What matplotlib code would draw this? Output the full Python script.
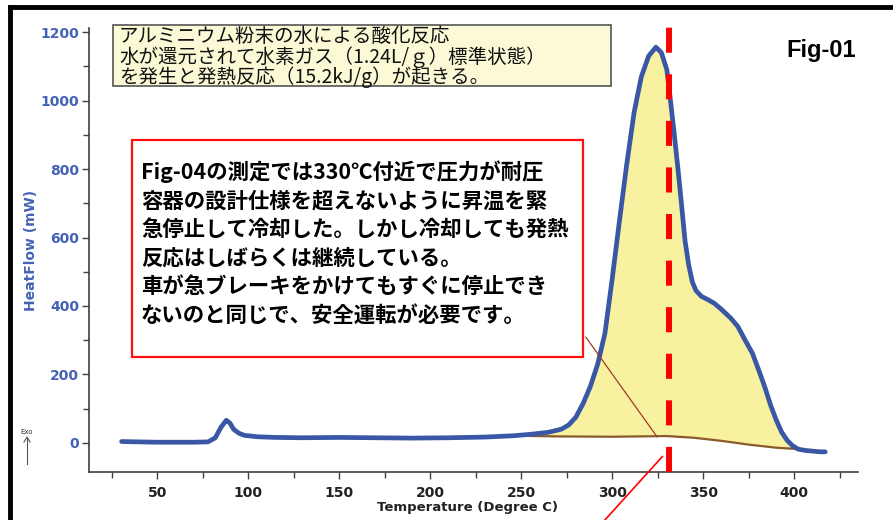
import numpy as np
import matplotlib.pyplot as plt
from matplotlib.lines import Line2D
from matplotlib.patches import Rectangle

plt.rcParams['font.family'] = ['Noto Sans CJK JP', 'DejaVu Sans']

# heat flow curve (temperature in degC, heat flow in mW)
temp = [30.5, 40, 50, 60, 70, 78, 82, 85, 88, 90, 92, 95, 98, 105, 115,
        130, 150, 170, 190, 210, 230, 246, 255, 265, 272, 276, 280, 284,
        288, 292, 296, 300, 304, 308, 312, 316, 320, 324, 327, 330, 332,
        334, 336, 338, 340, 342, 344, 346, 349, 352, 356, 360, 365, 369,
        373, 377, 381, 384, 387, 390, 393, 396, 399, 402, 406, 410, 414, 417]
heatflow = [4, 3, 2, 2, 2, 3, 15, 45, 66, 58, 40, 28, 22, 18, 16,
            15, 16, 15, 14, 15, 17, 21, 25, 31, 40, 52, 75, 115,
            165, 230, 320, 480, 650, 815, 965, 1070, 1130, 1156, 1140, 1090, 1000,
            905, 806, 700, 590, 520, 470, 445, 428, 420, 408, 390, 365, 340,
            300, 262, 205, 160, 110, 68, 32, 8, -8, -18, -22, -24, -26, -26]

# baseline under the exotherm
base_t = [246, 270, 300, 330, 345, 360, 375, 390, 402]
base_hf = [21, 19, 18, 20, 15, 6, -5, -14, -18]

stop_temp = 331

box_lines = ['アルミニウム粉末の水による酸化反応',
             '水が還元されて水素ガス（1.24L/ｇ）標準状態）',
             'を発生と発熱反応（15.2kJ/g）が起きる。']
note_lines = ['Fig-04の測定では330℃付近で圧力が耐圧',
              '容器の設計仕様を超えないように昇温を緊',
              '急停止して冷却した。しかし冷却しても発熱',
              '反応はしばらくは継続している。',
              '車が急ブレーキをかけてもすぐに停止でき',
              'ないのと同じで、安全運転が必要です。']

W, H = 893, 520
fig = plt.figure(figsize=(W / 100, H / 100), dpi=100)
ax = fig.add_axes([89 / W, 1 - 472 / H, (858 - 89) / W, (472 - 28) / H])

blue = '#3a57a5'
t = np.array(temp)
hf = np.array(heatflow)
sel = (t >= base_t[0]) & (t <= base_t[-1])
poly_x = np.concatenate([t[sel], base_t[::-1]])
poly_y = np.concatenate([hf[sel], base_hf[::-1]])
ax.fill(poly_x, poly_y, color='#f7f1a0', zorder=1)
ax.plot(base_t, base_hf, color='#8b5a2b', lw=1.6, zorder=2)
ax.plot(temp, heatflow, color=blue, lw=3.4, solid_capstyle='round', zorder=3)

ax.axvline(stop_temp, ymin=0, ymax=1.014, color='red', lw=4.3,
           linestyle=(0, (4.2, 3.6)), dash_capstyle='butt', clip_on=False, zorder=4)

# leader lines
ax.plot([285.5, 324.6], [309, 18], color='#a33a2a', lw=0.9, zorder=4)
ax.plot([327.5, 296], [-40, -225], color='red', lw=1.2, clip_on=False, zorder=4)

ax.set_xlim(12.6, 435)
ax.set_ylim(-85, 1212)
ax.set_xticks(range(50, 401, 50))
ax.set_xticks(range(25, 426, 50), minor=True)
ax.set_yticks(range(0, 1201, 200))
ax.set_yticks(range(100, 1200, 200), minor=True)
for s in ['top', 'right']:
    ax.spines[s].set_visible(False)
for s in ['left', 'bottom']:
    ax.spines[s].set_color('#404040')
    ax.spines[s].set_linewidth(1.2)
ax.tick_params(which='both', direction='out', color='#404040', width=1.0)
ax.tick_params(which='major', length=5)
ax.tick_params(which='minor', length=4)
ax.tick_params(axis='y', pad=2)
ax.tick_params(axis='x', pad=5)
for lab in ax.get_yticklabels():
    lab.set_family('DejaVu Sans')
    lab.set_fontweight('bold')
    lab.set_fontsize(10)
    lab.set_color('#4563b5')
for lab in ax.get_xticklabels():
    lab.set_family('DejaVu Sans')
    lab.set_fontweight('bold')
    lab.set_fontsize(10)
    lab.set_color('#222222')

fig.text(467 / W, 1 - 507 / H, 'Temperature (Degree C)', family='DejaVu Sans',
         fontweight='bold', fontsize=9.5, color='#222222', ha='center', va='center')
fig.text(31 / W, 1 - 250 / H, 'HeatFlow (mW)', family='DejaVu Sans',
         fontweight='bold', fontsize=10, color='#4563b5', rotation=90,
         ha='center', va='center')

# Exo marker
fig.text(27 / W, 1 - 432 / H, 'Exo', family='DejaVu Sans', fontsize=5,
         color='#333333', ha='center', va='center')
fig.add_artist(Line2D([27 / W, 27 / W], [1 - 464 / H, 1 - 438 / H],
                      color='#555555', lw=0.8))
fig.add_artist(Line2D([24 / W, 27 / W, 30 / W], [1 - 442 / H, 1 - 437 / H, 1 - 442 / H],
                      color='#555555', lw=0.8))

# outer frame (left and top edges)
fig.add_artist(Line2D([10 / W, 10 / W], [0, 1 - 7 / H], color='black', lw=3.5))
fig.add_artist(Line2D([10 / W, 1], [1 - 7 / H, 1 - 7 / H], color='black', lw=3.5))

# yellow info box
fig.add_artist(Rectangle((113 / W, 1 - 86 / H), (611 - 113) / W, (86 - 25) / H,
                         transform=fig.transFigure, facecolor='#fcf9d6',
                         edgecolor='#555555', lw=1.2, zorder=5))
fig.text(119 / W, 1 - 57 / H, '\n'.join(box_lines), fontsize=14,
         linespacing=0.91, color='#111111', ha='left', va='center', zorder=6)

# red note box
fig.add_artist(Rectangle((132 / W, 1 - 357 / H), (583 - 132) / W, (357 - 140) / H,
                         transform=fig.transFigure, facecolor='white',
                         edgecolor='#ff1010', lw=1.6, zorder=5))
fig.text(141 / W, 1 - 243 / H, '\n'.join(note_lines), fontsize=15.4,
         linespacing=1.44, fontweight='bold', color='black',
         ha='left', va='center', zorder=6)

fig.text(821 / W, 1 - 51 / H, 'Fig-01', family='Liberation Sans',
         fontweight='bold', fontsize=17, color='black', ha='center', va='center')

fig.savefig('out.png', dpi=100)
